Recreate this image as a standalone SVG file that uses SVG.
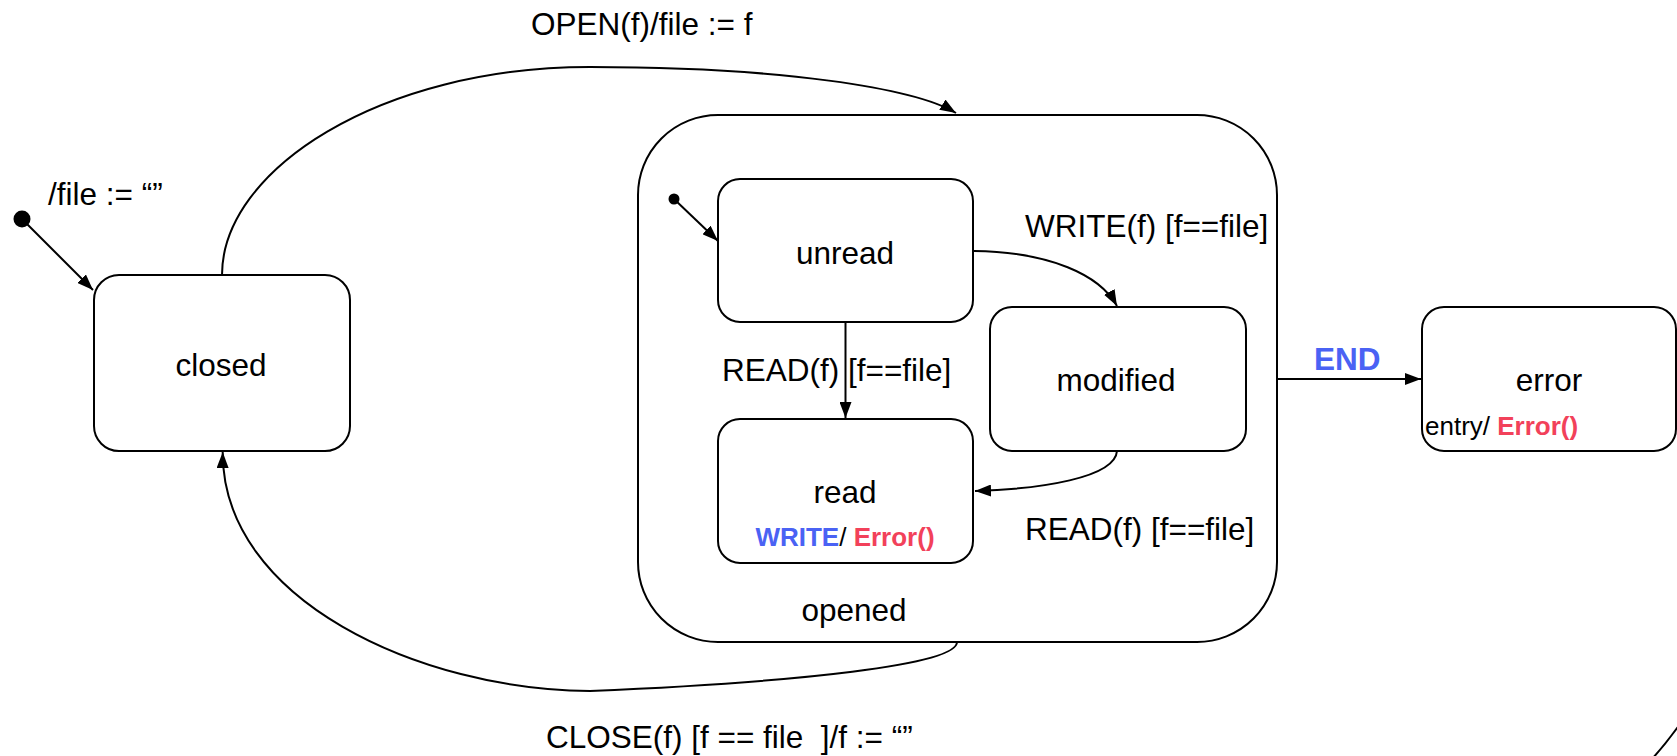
<svg xmlns="http://www.w3.org/2000/svg" width="1677" height="756" viewBox="0 0 1677 756">
  <style>
    .state { fill: #ffffff; stroke: #000000; stroke-width: 2; }
    .edge { fill: none; stroke: #000000; stroke-width: 2; }
    .lbl { font-family: "Liberation Sans", Arial, sans-serif; font-size: 31.5px; fill: #000000; }
    .act { font-family: "Liberation Sans", Arial, sans-serif; font-size: 26px; fill: #000000; }
    .ev { fill: #4a62f4; font-weight: bold; }
    .fn { fill: #f2415a; font-weight: bold; }
    .mid { text-anchor: middle; }
  </style>
  <defs>
    <marker id="arrow" markerUnits="userSpaceOnUse" markerWidth="16" markerHeight="12" refX="16" refY="6" orient="auto">
      <path d="M0,0 L16,6 L0,12 z" fill="#000000"/>
    </marker>
  </defs>

  <rect width="1677" height="756" fill="#ffffff"/>

  <!-- composite state -->
  <g id="opened">
    <rect class="state" x="638" y="115" width="639" height="527" rx="80" ry="80"/>
    <text class="lbl mid" x="854" y="621">opened</text>
  </g>

  <g id="closed">
    <rect class="state" x="94" y="275" width="256" height="176" rx="25" ry="25"/>
    <text class="lbl mid" x="221" y="376">closed</text>
  </g>

  <g id="unread">
    <rect class="state" x="718" y="179" width="255" height="143" rx="22" ry="22"/>
    <text class="lbl mid" x="845" y="264">unread</text>
  </g>

  <g id="read">
    <rect class="state" x="718" y="419" width="255" height="144" rx="22" ry="22"/>
    <text class="lbl mid" x="845" y="503">read</text>
    <text class="act mid" x="845" y="546"><tspan class="ev">WRITE</tspan>/ <tspan class="fn">Error()</tspan></text>
  </g>

  <g id="modified">
    <rect class="state" x="990" y="307" width="256" height="144" rx="22" ry="22"/>
    <text class="lbl mid" x="1116" y="391">modified</text>
  </g>

  <g id="error">
    <rect class="state" x="1422" y="307" width="254" height="144" rx="22" ry="22"/>
    <text class="lbl mid" x="1549" y="391">error</text>
    <text class="act" x="1425" y="435">entry/ <tspan class="fn">Error()</tspan></text>
  </g>

  <g id="init-outer">
    <circle cx="22" cy="219" r="8.5" fill="#000000"/>
  </g>

  <g id="init-inner">
    <circle cx="674" cy="199" r="5.5" fill="#000000"/>
  </g>

  <g id="connectors">
    <path class="edge" d="M22,219 L93,290" marker-end="url(#arrow)"/>
    <path class="edge" d="M674,199 L718,241" marker-end="url(#arrow)"/>
    <path class="edge" d="M222,275 C222,170 380,67 590,67 C780,67 915,88 956,113" marker-end="url(#arrow)"/>
    <path class="edge" d="M957,642 C957,665 800,682 590,691 C420,690 222,600 222.7,452" marker-end="url(#arrow)"/>
    <path class="edge" d="M845.5,322 L845.5,418" marker-end="url(#arrow)"/>
    <path class="edge" d="M974,251 C1050,252 1100,275 1117,306" marker-end="url(#arrow)"/>
    <path class="edge" d="M1117,451 C1115,478 1040,489 975,491" marker-end="url(#arrow)"/>
    <path class="edge" d="M1277,379 L1421,379" marker-end="url(#arrow)"/>
    <path class="edge" d="M1651,760 Q1665,745 1680,724"/>
  </g>

  <g id="labels">
    <text class="lbl" x="48" y="205">/file := “”</text>
    <text class="lbl" x="531" y="35">OPEN(f)/file := f</text>
    <text class="lbl" x="1025" y="237">WRITE(f) [f==file]</text>
    <text class="lbl" x="722" y="381">READ(f) [f==file]</text>
    <text class="lbl" x="1025" y="540">READ(f) [f==file]</text>
    <text class="lbl ev" x="1314" y="370">END</text>
    <text class="lbl" x="546" y="748" xml:space="preserve">CLOSE(f) [f == file  ]/f := “”</text>
  </g>
</svg>
